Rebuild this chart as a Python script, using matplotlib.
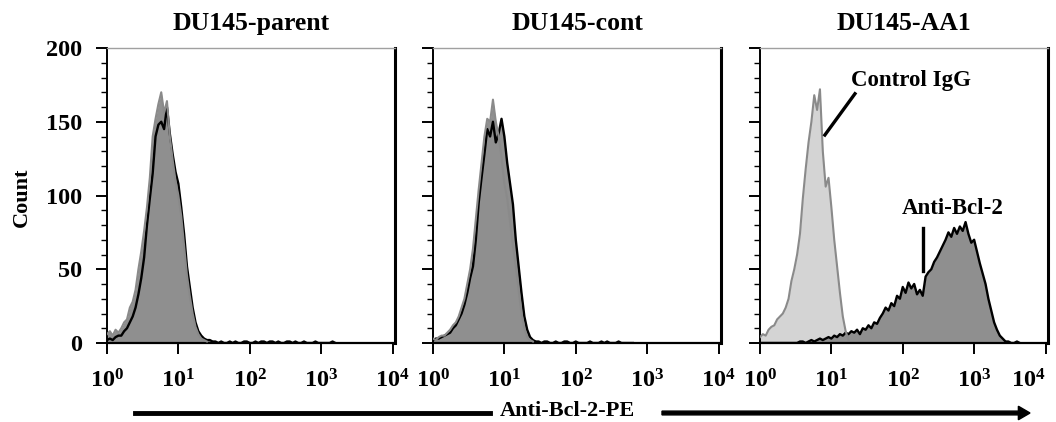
import numpy as np
import matplotlib
matplotlib.use("Agg")
import matplotlib.pyplot as plt
from matplotlib.ticker import LogLocator, NullFormatter, MultipleLocator

plt.rcParams['font.family'] = ['Liberation Serif', 'DejaVu Serif']
plt.rcParams['font.weight'] = 'bold'
plt.rcParams['mathtext.fontset'] = 'custom'
plt.rcParams['mathtext.rm'] = 'Liberation Serif:bold'
plt.rcParams['mathtext.it'] = 'Liberation Serif:bold'
plt.rcParams['mathtext.bf'] = 'Liberation Serif:bold'

# histogram channels: log10 of fluorescence, 0.04 decade apart
step = 0.04

titles = ['DU145-parent', 'DU145-cont', 'DU145-AA1']
tick_labels = [r'$\mathregular{10^{0}}$', r'$\mathregular{10^{1}}$', r'$\mathregular{10^{2}}$',
               r'$\mathregular{10^{3}}$', r'$\mathregular{10^{4}}$']

# DU145-parent
parent_ctrl = [6, 8, 5, 9, 7, 10, 14, 16, 24, 28, 36, 50, 62, 76, 92, 112, 140, 152, 162, 170,
               156, 164, 140, 124, 110, 100, 86, 66, 46, 32, 20, 11, 6, 3, 2, 1]
parent_bcl2 = [2, 3, 2, 4, 5, 5, 8, 10, 14, 18, 24, 33, 44, 58, 80, 98, 115, 140, 148, 150,
               145, 160, 142, 128, 116, 108, 92, 74, 52, 38, 24, 14, 8, 5, 3, 2, 2, 1,
               1, 0, 1, 0, 0, 1, 0, 1, 0, 0, 1, 1, 0, 0, 1, 0, 1, 1, 0, 1, 1, 0,
               1, 0, 0, 1, 1, 0, 1, 0, 0, 1, 0, 0, 0, 1, 0, 0, 0, 0, 0, 1, 0]

# DU145-cont
cont_ctrl = [3, 2, 4, 5, 5, 7, 9, 12, 14, 18, 24, 30, 40, 50, 64, 84, 104, 122, 140, 152,
             150, 165, 150, 140, 126, 108, 98, 82, 66, 52, 36, 20, 10, 4, 2, 1]
cont_bcl2 = [2, 3, 3, 4, 5, 6, 7, 10, 12, 16, 20, 26, 34, 44, 52, 70, 95, 112, 128, 145,
             140, 150, 136, 142, 152, 140, 122, 108, 94, 70, 52, 34, 18, 9, 4, 2, 1, 1,
             0, 1, 1, 0, 0, 1, 0, 0, 1, 1, 0, 0, 1, 0, 0, 0, 0, 1, 0, 0, 0, 1,
             0, 1, 0, 0, 0, 1, 0, 0, 0, 0, 0]

# DU145-AA1
aa1_ctrl = [4, 6, 5, 9, 11, 12, 16, 18, 20, 24, 30, 42, 50, 60, 74, 98, 118, 136, 150, 168,
            158, 172, 130, 106, 112, 92, 70, 52, 34, 18, 8, 2]
aa1_bcl2 = [0, 0, 0, 0, 0, 0, 0, 0, 0, 0, 0, 0, 0, 0, 1, 1, 0, 1, 2, 1,
            2, 3, 2, 3, 4, 3, 5, 4, 6, 5, 7, 6, 8, 7, 9, 6, 10, 9, 12, 10,
            14, 13, 17, 20, 24, 22, 27, 25, 32, 30, 38, 34, 41, 37, 40, 33, 36, 32, 45, 48,
            50, 55, 58, 62, 66, 70, 75, 72, 78, 74, 79, 76, 82, 74, 68, 70, 62, 54, 47, 40,
            30, 22, 14, 9, 5, 3, 1, 1, 0, 0, 1, 0]

panels = [(parent_ctrl, parent_bcl2), (cont_ctrl, cont_bcl2), (aa1_ctrl, aa1_bcl2)]
ctrl_fill = ['#8f8f8f', '#8f8f8f', '#d4d4d4']

fig = plt.figure(figsize=(10.56, 4.22), dpi=100)
lefts = [107, 433, 760]
axes = []
for i, (ctrl, bcl2) in enumerate(panels):
    ax = fig.add_axes([lefts[i] / 1056, 1 - 343 / 422, 288 / 1056, 295 / 422])
    axes.append(ax)
    xc = 10 ** (np.arange(len(ctrl)) * step)
    xb = 10 ** (np.arange(len(bcl2)) * step)
    ax.fill_between(xc, ctrl, color=ctrl_fill[i], lw=0, zorder=1)
    ax.fill_between(xb, bcl2, color='#8f8f8f', lw=0, zorder=2)
    ax.plot(xb, bcl2, color='black', lw=1.7, zorder=3)
    ax.plot(xc, ctrl, color='#8a8a8a', lw=1.5, zorder=4)

    ax.set_xscale('log')
    ax.set_xlim(1, 10 ** 4.035)
    ax.set_ylim(0, 200)
    ax.set_xticks([1, 10, 100, 1000, 10000])
    ax.set_xticklabels(tick_labels)
    ax.xaxis.set_minor_locator(LogLocator(base=10, subs=np.arange(2, 10)))
    ax.xaxis.set_minor_formatter(NullFormatter())
    ax.yaxis.set_major_locator(MultipleLocator(50))
    ax.yaxis.set_minor_locator(MultipleLocator(10))
    ax.tick_params(axis='both', which='major', length=8, width=1.4, labelsize=17.5, direction='out')
    ax.tick_params(axis='both', which='minor', length=4, width=1.0, direction='out')
    ax.tick_params(axis='x', which='major', pad=11)
    ax.tick_params(axis='y', which='major', pad=10)
    if i > 0:
        ax.set_yticklabels([])
    ax.spines['left'].set_linewidth(1.4)
    ax.spines['bottom'].set_linewidth(1.6)
    ax.spines['top'].set_color('#a0a0a0')
    ax.spines['top'].set_linewidth(1.0)
    ax.spines['right'].set_linewidth(2.2)
    ax.set_title(titles[i], fontsize=18.5, fontweight='bold', pad=13)

# last tick label sits a bit left, as in the original
axes[2].get_xticklabels()[-1].set_horizontalalignment('right')
axes[2].get_xticklabels()[-1].set_x(10 ** 4.1)

fig.text(22 / 1056, 1 - 197 / 422, 'Count', rotation=90, ha='center', va='center',
         fontsize=16, fontweight='bold')

# annotations in the AA1 panel
ax3 = axes[2]
ax3.plot([8.1, 21.4], [141, 169], color='black', lw=2.4, zorder=5)
ax3.text(129, 178, 'Control IgG', ha='center', va='center', fontsize=16.5, fontweight='bold')
ax3.plot([190, 190], [49, 78], color='black', lw=2.4, zorder=5)
ax3.text(500, 91, 'Anti-Bcl-2', ha='center', va='center', fontsize=16.5, fontweight='bold')

# x-axis caption with long arrow
fig.add_artist(plt.Line2D([135 / 1056, 490 / 1056], [1 - 413 / 422] * 2, color='black', lw=3.5))
fig.text(567 / 1056, 1 - 411 / 422, 'Anti-Bcl-2-PE', ha='center', va='center',
         fontsize=16, fontweight='bold')
fig.patches.append(matplotlib.patches.FancyArrow(662 / 1056, 1 - 413 / 422, 368 / 1056, 0,
                                                 width=0.009, head_width=0.032, head_length=0.011,
                                                 length_includes_head=True, color='black',
                                                 transform=fig.transFigure, figure=fig))

fig.savefig('out.png', dpi=100)
